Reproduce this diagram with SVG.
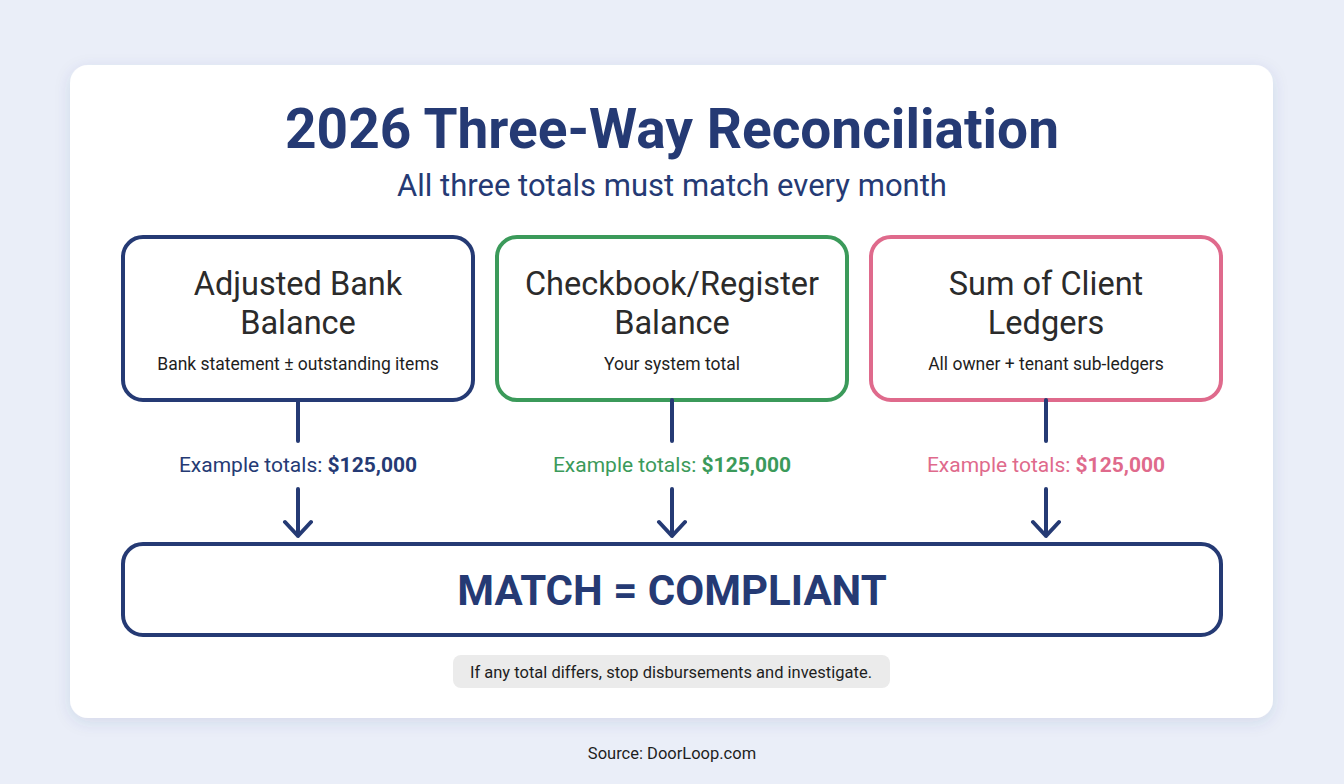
<svg xmlns="http://www.w3.org/2000/svg" width="1344" height="784" viewBox="0 0 1344 784">
<defs>
<filter id="sh" x="-5%" y="-5%" width="110%" height="115%"><feDropShadow dx="0" dy="4" stdDeviation="8" flood-color="#3a4a80" flood-opacity="0.12"/></filter>
<style>
text{font-family:Roboto,"Liberation Sans",sans-serif;text-anchor:middle}
.box{fill:#fff;stroke-width:4}
.t{font-size:32.5px;fill:#2b2b2b}
.s{font-size:17.5px;fill:#1e1e1e}
.e{font-size:21px}
.c{stroke:#253a74;stroke-width:4;fill:none;stroke-linecap:round;stroke-linejoin:round}
</style>
</defs>
<rect width="1344" height="784" fill="#eaeef8"/>
<rect x="70" y="65" width="1203" height="653" rx="18" fill="#fff" filter="url(#sh)"/>
<text x="672" y="148" font-size="55" font-weight="700" fill="#253a74">2026 Three-Way Reconciliation</text>
<text x="672" y="196" font-size="31" fill="#253a74">All three totals must match every month</text>
<g id="n1"><rect class="box" x="123" y="237" width="350" height="163" rx="20" stroke="#253a74"/>
<text class="t" x="298" y="295">Adjusted Bank</text><text class="t" x="298" y="334">Balance</text>
<text class="s" x="298" y="370">Bank statement ± outstanding items</text></g>
<g id="n2"><rect class="box" x="497" y="237" width="350" height="163" rx="20" stroke="#3b9a5a"/>
<text class="t" x="672" y="295">Checkbook/Register</text><text class="t" x="672" y="334">Balance</text>
<text class="s" x="672" y="370">Your system total</text></g>
<g id="n3"><rect class="box" x="871" y="237" width="350" height="163" rx="20" stroke="#df6a8c"/>
<text class="t" x="1046" y="295">Sum of Client</text><text class="t" x="1046" y="334">Ledgers</text>
<text class="s" x="1046" y="370">All owner + tenant sub-ledgers</text></g>
<g id="connectors">
<path class="c" d="M298,400 V441 M298,489 V536 M285,522 L298,536 L311,522"/>
<path class="c" d="M672,400 V441 M672,489 V536 M659,522 L672,536 L685,522"/>
<path class="c" d="M1046,400 V441 M1046,489 V536 M1033,522 L1046,536 L1059,522"/>
</g>
<text class="e" x="298" y="472" fill="#253a74">Example totals: <tspan font-weight="700">$125,000</tspan></text>
<text class="e" x="672" y="472" fill="#3b9a5a">Example totals: <tspan font-weight="700">$125,000</tspan></text>
<text class="e" x="1046" y="472" fill="#df6a8c">Example totals: <tspan font-weight="700">$125,000</tspan></text>
<g id="result"><rect class="box" x="123" y="544" width="1098" height="91" rx="20" stroke="#253a74"/>
<text x="672" y="605" font-size="42" font-weight="700" fill="#253a74">MATCH = COMPLIANT</text></g>
<g id="note"><rect x="453" y="655" width="437" height="33" rx="8" fill="#ebebeb"/>
<text x="671" y="678" font-size="16.5" fill="#1e1e1e">If any total differs, stop disbursements and investigate.</text></g>
<text x="672" y="759" font-size="16.5" fill="#1e1e1e">Source: DoorLoop.com</text>
</svg>
